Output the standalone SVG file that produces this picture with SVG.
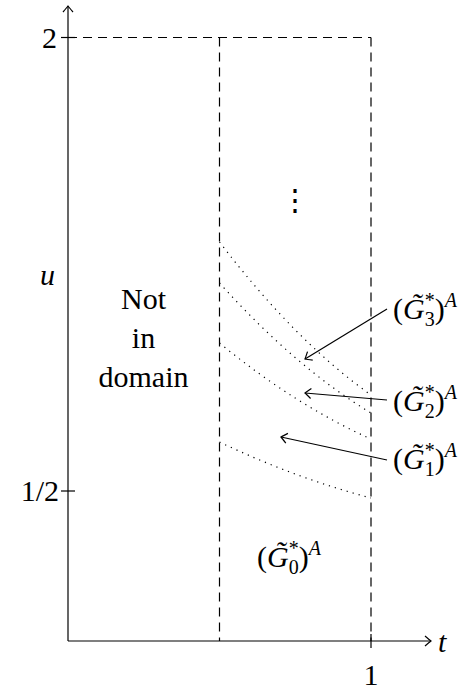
<svg xmlns="http://www.w3.org/2000/svg" width="470" height="690" viewBox="0 0 470 690">
<style>
.ax{stroke:#000;stroke-width:1.2;fill:none}
.dash{stroke:#000;stroke-width:1.2;fill:none;stroke-dasharray:9 6}
.dot{stroke:#000;stroke-width:1.2;fill:none;stroke-dasharray:1.2 5}
.t{font-family:'Liberation Serif','DejaVu Serif',serif;font-size:30px;fill:#000}
.it{font-style:italic}
.s{font-size:20px}
</style>
<defs>
<marker id="to" viewBox="-8 -6 10 12" markerWidth="10" markerHeight="12" refX="0" refY="0" orient="auto" markerUnits="userSpaceOnUse">
<path d="M -6 -5 Q -1.5 -1.2 0 0 Q -1.5 1.2 -6 5" fill="none" stroke="#000" stroke-width="1.2"/>
</marker>
</defs>
<g id="axes">
<line class="ax" x1="68" y1="641" x2="68" y2="6" marker-end="url(#to)"/>
<line class="ax" x1="68" y1="641" x2="431" y2="641" marker-end="url(#to)"/>
<line class="ax" x1="61" y1="37.5" x2="75" y2="37.5"/>
<line class="ax" x1="61" y1="491" x2="75" y2="491"/>
<line class="ax" x1="371" y1="634" x2="371" y2="648"/>
<text class="t" x="57" y="48" text-anchor="end">2</text>
<text class="t" x="59" y="501" text-anchor="end">1/2</text>
<text class="t" x="371" y="685" text-anchor="middle">1</text>
<text class="t it" x="438" y="652">t</text>
<text class="t it" x="40" y="285">u</text>
</g>
<g id="box">
<line class="dash" x1="68" y1="37.5" x2="371" y2="37.5"/>
<line class="dash" x1="219.5" y1="37.5" x2="219.5" y2="641"/>
<line class="dash" x1="371" y1="37.5" x2="371" y2="641"/>
</g>
<g id="not-domain">
<text class="t" x="143.5" y="309" text-anchor="middle">Not</text>
<text class="t" x="143.5" y="348" text-anchor="middle">in</text>
<text class="t" x="143.5" y="387" text-anchor="middle">domain</text>
</g>
<g id="vdots">
<text class="t" x="295" y="210" text-anchor="middle">⋮</text>
</g>
<g id="curves">
<path class="dot" d="M 219.5 242 Q 295 341 371 395"/>
<path class="dot" d="M 219.5 283 Q 295 367 371 413"/>
<path class="dot" d="M 219.5 343 Q 295 405 371 439"/>
<path class="dot" d="M 219.5 442 Q 295 478 371 498"/>
</g>
<g id="G3">
<text class="t" x="393" y="319">(<tspan class="it">G&#x303;</tspan><tspan class="s" dy="-12">*</tspan><tspan class="s" dx="-10" dy="19">3</tspan><tspan dy="-7">)</tspan><tspan class="s it" dy="-12">A</tspan></text>
</g>
<g id="G2">
<text class="t" x="393" y="411">(<tspan class="it">G&#x303;</tspan><tspan class="s" dy="-12">*</tspan><tspan class="s" dx="-10" dy="19">2</tspan><tspan dy="-7">)</tspan><tspan class="s it" dy="-12">A</tspan></text>
</g>
<g id="G1">
<text class="t" x="393" y="469">(<tspan class="it">G&#x303;</tspan><tspan class="s" dy="-12">*</tspan><tspan class="s" dx="-10" dy="19">1</tspan><tspan dy="-7">)</tspan><tspan class="s it" dy="-12">A</tspan></text>
</g>
<g id="G0">
<text class="t" x="257" y="567">(<tspan class="it">G&#x303;</tspan><tspan class="s" dy="-12">*</tspan><tspan class="s" dx="-10" dy="19">0</tspan><tspan dy="-7">)</tspan><tspan class="s it" dy="-12">A</tspan></text>
</g>
<g id="connectors">
<line class="ax" x1="387" y1="309" x2="305" y2="359" marker-end="url(#to)"/>
<line class="ax" x1="387" y1="400" x2="305" y2="393" marker-end="url(#to)"/>
<line class="ax" x1="387" y1="460" x2="281" y2="437" marker-end="url(#to)"/>
</g>
</svg>
